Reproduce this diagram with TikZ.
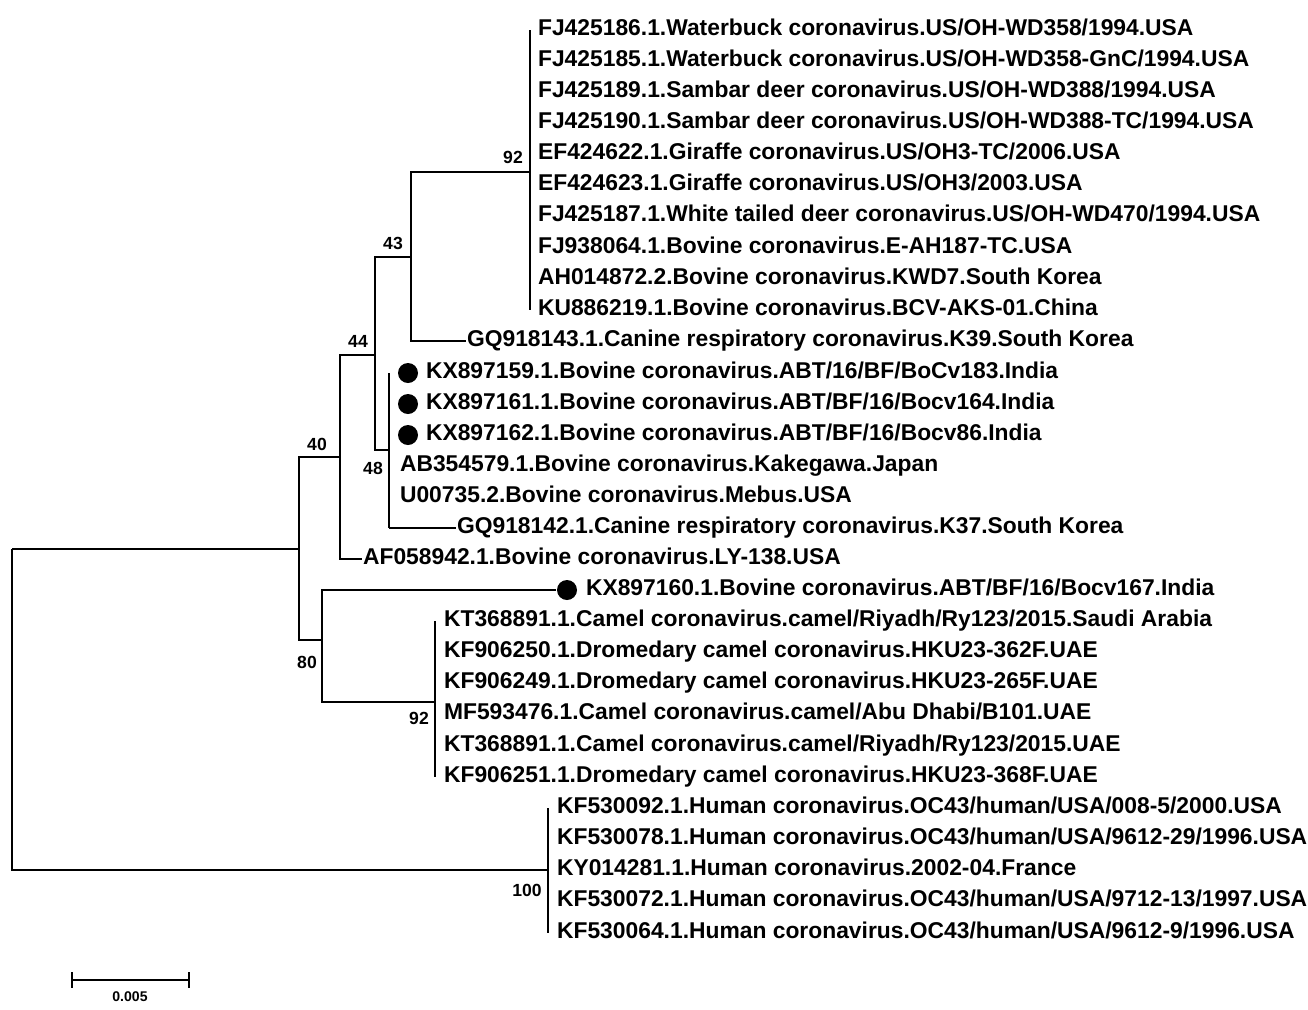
\documentclass[tikz,border=0pt]{standalone}
\usepackage{fontspec}
\setmainfont{Liberation Sans}
\begin{document}
\begin{tikzpicture}[x=0.02cm,y=-0.02cm,line width=1.2pt,
  taxon/.style={anchor=west,inner sep=0pt,text height=1.5ex,text depth=0.35ex,font=\fontsize{13}{14}\selectfont\bfseries},
  boot/.style={inner sep=0pt,font=\fontsize{10}{11}\selectfont\bfseries},
  dot/.style={circle,fill=black,inner sep=0pt,minimum size=0.4cm}]
  \useasboundingbox (0,0) rectangle (1308,1009);

  % internal nodes
  \coordinate (root) at (12,549);
  \coordinate (n40) at (299,549);
  \coordinate (n44) at (340,457);
  \coordinate (n43) at (375,355);
  \coordinate (n411) at (411,257);
  \coordinate (n92a) at (530,172);
  \coordinate (n48) at (389,450);
  \coordinate (n80) at (322,640);
  \coordinate (n92b) at (435,702);
  \coordinate (n100) at (548,870);

  % ruminant clade
  \foreach \name [count=\i] in {
    FJ425186.1.Waterbuck coronavirus.US/OH-WD358/1994.USA,
    FJ425185.1.Waterbuck coronavirus.US/OH-WD358-GnC/1994.USA,
    FJ425189.1.Sambar deer coronavirus.US/OH-WD388/1994.USA,
    FJ425190.1.Sambar deer coronavirus.US/OH-WD388-TC/1994.USA,
    EF424622.1.Giraffe coronavirus.US/OH3-TC/2006.USA,
    EF424623.1.Giraffe coronavirus.US/OH3/2003.USA,
    FJ425187.1.White tailed deer coronavirus.US/OH-WD470/1994.USA,
    FJ938064.1.Bovine coronavirus.E-AH187-TC.USA,
    AH014872.2.Bovine coronavirus.KWD7.South Korea,
    KU886219.1.Bovine coronavirus.BCV-AKS-01.China}
    \node[taxon] (a\i) at (537,{30+31.1*(\i-1)}) {\name};
  \draw (530,30) -- (530,310);

  \node[taxon] (crk39) at (466,341) {GQ918143.1.Canine respiratory coronavirus.K39.South Korea};

  % Indian isolates and relatives
  \node[dot] (d1) at (408,373) {};
  \node[taxon] (b1) at (425,373) {KX897159.1.Bovine coronavirus.ABT/16/BF/BoCv183.India};
  \node[dot] (d2) at (408,404) {};
  \node[taxon] (b2) at (425,404) {KX897161.1.Bovine coronavirus.ABT/BF/16/Bocv164.India};
  \node[dot] (d3) at (408,435) {};
  \node[taxon] (b3) at (425,435) {KX897162.1.Bovine coronavirus.ABT/BF/16/Bocv86.India};
  \node[taxon] (b4) at (399,466) {AB354579.1.Bovine coronavirus.Kakegawa.Japan};
  \node[taxon] (b5) at (399,497) {U00735.2.Bovine coronavirus.Mebus.USA};
  \node[taxon] (crk37) at (456,528) {GQ918142.1.Canine respiratory coronavirus.K37.South Korea};
  \node[taxon] (ly138) at (362,559) {AF058942.1.Bovine coronavirus.LY-138.USA};

  \node[dot] (d4) at (567,590) {};
  \node[taxon] (c0) at (585,590) {KX897160.1.Bovine coronavirus.ABT/BF/16/Bocv167.India};

  % camel clade
  \foreach \name [count=\i] in {
    KT368891.1.Camel coronavirus.camel/Riyadh/Ry123/2015.Saudi Arabia,
    KF906250.1.Dromedary camel coronavirus.HKU23-362F.UAE,
    KF906249.1.Dromedary camel coronavirus.HKU23-265F.UAE,
    MF593476.1.Camel coronavirus.camel/Abu Dhabi/B101.UAE,
    KT368891.1.Camel coronavirus.camel/Riyadh/Ry123/2015.UAE,
    KF906251.1.Dromedary camel coronavirus.HKU23-368F.UAE}
    \node[taxon] (m\i) at (443,{621+31.2*(\i-1)}) {\name};
  \draw (435,621) -- (435,777);

  % human clade
  \foreach \name [count=\i] in {
    KF530092.1.Human coronavirus.OC43/human/USA/008-5/2000.USA,
    KF530078.1.Human coronavirus.OC43/human/USA/9612-29/1996.USA,
    KY014281.1.Human coronavirus.2002-04.France,
    KF530072.1.Human coronavirus.OC43/human/USA/9712-13/1997.USA,
    KF530064.1.Human coronavirus.OC43/human/USA/9612-9/1996.USA}
    \node[taxon] (h\i) at (556,{808+31.2*(\i-1)}) {\name};
  \draw (548,808) -- (548,933);

  % branches
  \draw (root) |- (n40);
  \draw (root) |- (n100);
  \draw (n40) |- (n44);
  \draw (n40) |- (n80);
  \draw (n44) |- (n43);
  \draw (n44) |- (ly138.west);
  \draw (n43) |- (n411);
  \draw (n43) |- (n48);
  \draw (389,373) -- (389,528);
  \draw (n48) ++(0,78) |- (crk37.west);
  \draw (n411) |- (n92a);
  \draw (n411) |- (crk39.west);
  \draw (n80) |- (d4.west);
  \draw (n80) |- (n92b);

  % bootstrap values
  \node[boot] at (513,157) {92};
  \node[boot] at (393,243) {43};
  \node[boot] at (358,341) {44};
  \node[boot] at (317,444) {40};
  \node[boot] at (373,468) {48};
  \node[boot] at (307,662) {80};
  \node[boot] at (419,718) {92};
  \node[boot] at (527,890) {100};

  % scale bar
  \coordinate (s0) at (72,980);
  \coordinate (s1) at (189,980);
  \draw (s0) -- (s1);
  \draw (72,972) -- (72,988);
  \draw (189,972) -- (189,988);
  \node[boot,font=\fontsize{8}{9}\selectfont\bfseries] at (130,997) {0.005};
\end{tikzpicture}
\end{document}
